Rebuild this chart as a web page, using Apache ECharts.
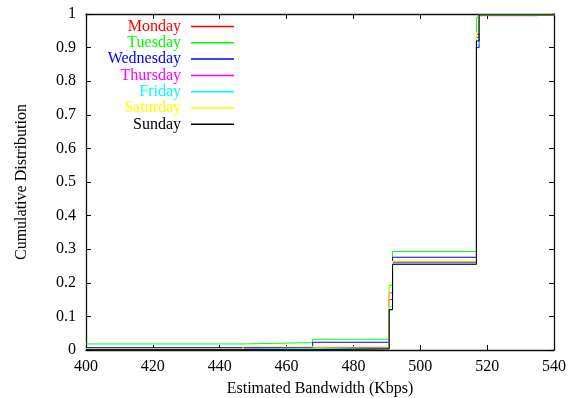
<!DOCTYPE html>
<html>
<head>
<meta charset="utf-8">
<script src="https://cdn.jsdelivr.net/npm/echarts@6/dist/echarts.min.js"></script>
<style>
  html, body { margin: 0; padding: 0; background: #fff; }
  #main { width: 574px; height: 398px; }
</style>
</head>
<body>
<div id="main"></div>
<script>
// days and their colours (gnuplot defaults)
const days = ['Monday', 'Tuesday', 'Wednesday', 'Thursday', 'Friday', 'Saturday', 'Sunday']
const colors = ['#ff0000', '#00ff00', '#0000ff', '#ff00ff', '#00ffff', '#ffff00', '#000000']

// bandwidth (Kbps) where the CDF steps, and the CDF value from there on
const mondayX = [400, 447, 490.7, 491.7, 516.8, 517.6, 534.7, 540]
const mondayY = [0.002, 0.005, 0.15, 0.262, 0.94, 0.995, 1, 1]
const tuesdayX = [400, 447, 467.8, 490.7, 491.7, 516.8, 517.6, 540]
const tuesdayY = [0.018, 0.022, 0.032, 0.193, 0.293, 0.99, 0.998, 1]
const wednesdayX = [400, 467.8, 490.7, 491.7, 516.8, 517.6, 540]
const wednesdayY = [0.007, 0.023, 0.12, 0.276, 0.90, 0.997, 1]
const thursdayX = [400, 447, 490.7, 491.7, 516.8, 517.6, 540]
const thursdayY = [0.004, 0.008, 0.17, 0.26, 0.93, 0.996, 1]
const fridayX = [400, 447, 490.7, 491.7, 516.8, 517.6, 540]
const fridayY = [0.003, 0.006, 0.13, 0.258, 0.91, 0.996, 1]
const saturdayX = [400, 447, 490.7, 491.7, 516.8, 517.6, 540]
const saturdayY = [0.003, 0.01, 0.185, 0.265, 0.945, 0.996, 1]
const sundayX = [400, 467.8, 490.7, 491.7, 516.8, 517.6, 540]
const sundayY = [0.001, 0.003, 0.12, 0.255, 0.92, 0.997, 1]

const allX = [mondayX, tuesdayX, wednesdayX, thursdayX, fridayX, saturdayX, sundayX]
const allY = [mondayY, tuesdayY, wednesdayY, thursdayY, fridayY, saturdayY, sundayY]

const FONT = 'Liberation Serif'

function pairs(xs, ys) {
  return xs.map((x, i) => [x, ys[i]])
}

const chart = echarts.init(document.getElementById('main'), null, { renderer: 'canvas' })

const axisCommon = {
  axisLine: { show: true, onZero: false, lineStyle: { color: '#111', width: 1.3 } },
  axisTick: { show: true, inside: true, length: 5, lineStyle: { color: '#000' } },
  splitLine: { show: false }
}

// one legend box per day so the texts line up on the right like gnuplot's key
const legends = days.map((d, i) => ({
  data: [d],
  right: 340,
  top: 18.5 + i * 16.3,
  orient: 'vertical',
  align: 'right',
  padding: 0,
  icon: 'rect',
  itemWidth: 43,
  itemHeight: 1.5,
  textStyle: { color: colors[i], fontFamily: FONT, fontSize: 16, padding: [0, 5, 0, 0] }
}))

const option = {
  animation: false,
  backgroundColor: '#fff',
  grid: { left: 86, right: 20, top: 14, bottom: 48, outerBoundsMode: 'none' },
  legend: legends,
  xAxis: [{
    ...axisCommon,
    type: 'value',
    min: 400,
    max: 540,
    interval: 20,
    name: 'Estimated Bandwidth (Kbps)',
    nameLocation: 'middle',
    nameGap: 31,
    nameTextStyle: { color: '#000', fontFamily: FONT, fontSize: 16 },
    axisLabel: { color: '#000', fontFamily: FONT, fontSize: 16, margin: 9 }
  }, {
    ...axisCommon,
    type: 'value',
    position: 'top',
    min: 400,
    max: 540,
    interval: 20,
    axisLabel: { show: false }
  }],
  yAxis: [{
    ...axisCommon,
    type: 'value',
    min: 0,
    max: 1,
    interval: 0.1,
    name: 'Cumulative Distribution',
    nameLocation: 'middle',
    nameGap: 56,
    nameTextStyle: { color: '#000', fontFamily: FONT, fontSize: 16 },
    axisLabel: { color: '#000', fontFamily: FONT, fontSize: 16, margin: 10 }
  }, {
    ...axisCommon,
    type: 'value',
    position: 'right',
    min: 0,
    max: 1,
    interval: 0.1,
    axisLabel: { show: false }
  }],
  series: days.map((d, i) => ({
    name: d,
    type: 'line',
    step: 'end',
    showSymbol: false,
    color: colors[i],
    lineStyle: { width: 1, color: colors[i] },
    data: pairs(allX[i], allY[i])
  }))
}

chart.setOption(option)
</script>
</body>
</html>
